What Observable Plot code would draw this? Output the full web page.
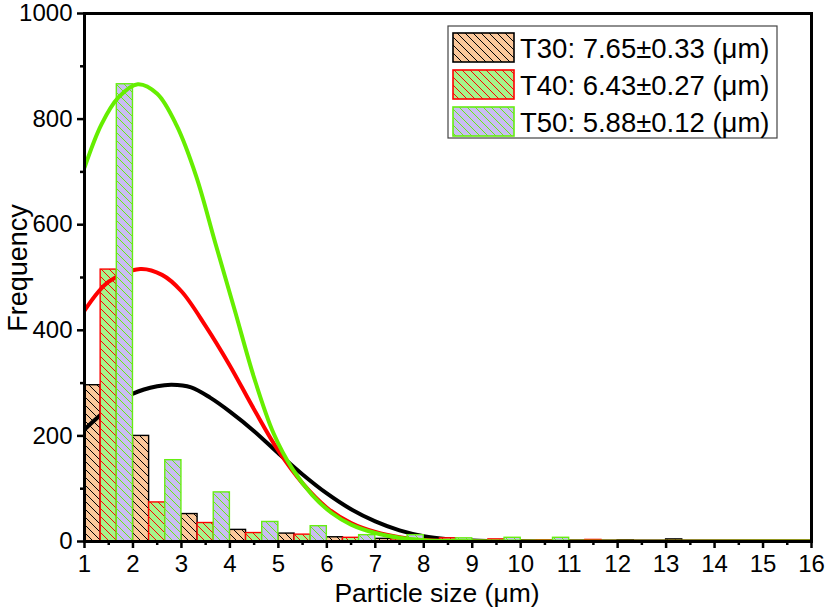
<!DOCTYPE html>
<html><head><meta charset="utf-8">
<script src="https://cdn.jsdelivr.net/npm/d3@7"></script>
<script src="https://cdn.jsdelivr.net/npm/@observablehq/plot@0.6"></script>
<style>
body{margin:0;background:#fff}
svg{font-family:"Liberation Sans",Arial,sans-serif}
</style>
</head><body><div id="chart"></div>
<script>
// Histogram bins (1 µm wide, three samples side by side)
const binStarts = [1,2,3,4,5,6,7,8,9,10,11,12,13,14,15];
const t30 = [296, 200, 52, 22, 15, 8, 5, 3, 1, 1, 1, 2, 4, 0, 0];
const t40 = [515, 74, 35, 16, 13, 7, 4, 6, 4, 2, 3, 0, 0, 0, 0];
const t50 = [866, 154, 93, 37, 29, 12, 12, 6, 7, 7, 0, 0, 0, 0, 0];

// Fitted distribution curves as [size, frequency]
const fitT30 = [[1,212],[1.5,252],[2,280],[2.5,294],[2.8,297],[3.2,292],[3.6,272],[4.0,246],[4.5,209],[5.0,167],[5.5,127],[6.0,91],[6.5,61],[7.0,38],[7.5,21],[8.0,10],[8.5,4.5],[9,2],[10,0.3],[11,0],[16,0]];
const fitT40 = [[1,437],[1.5,492],[2.15,516],[2.6,505],[3.0,474],[3.5,408],[4.0,333],[4.5,250],[5.0,172],[5.5,110],[6.0,64],[6.5,35],[7.0,18],[7.5,8],[8.0,3],[8.5,1],[9.5,0],[16,0]];
const fitT50 = [[1,708],[1.35,790],[1.7,841],[2.1,866],[2.5,848],[2.9,788],[3.3,693],[3.7,565],[4.1,438],[4.5,310],[4.9,205],[5.3,136],[5.7,88],[6.1,54],[6.5,32],[7.0,16],[7.5,7],[8.0,2.5],[8.5,1],[9.5,0],[16,0]];

const legendLabels = ["T30: 7.65±0.33 (μm)", "T40: 6.43±0.27 (μm)", "T50: 5.88±0.12 (μm)"];
const xTicks = [1,2,3,4,5,6,7,8,9,10,11,12,13,14,15,16];
const xMinor = [1.5,2.5,3.5,4.5,5.5,6.5,7.5,8.5,9.5,10.5,11.5,12.5,13.5,14.5,15.5];
const yTicks = [0,200,400,600,800,1000];
const yMinor = [100,300,500,700,900];

const styles = [
  {pat:"h30", bg:"#FCC89B", line:"#000000", stroke:"#000000", curve:"#000000"},
  {pat:"h40", bg:"#A6F58A", line:"#FF0000", stroke:"#FF0000", curve:"#FF0000"},
  {pat:"h50", bg:"#C9BDF2", line:"#66EE11", stroke:"#66EE11", curve:"#66EE00"}
];

function barsOf(values, k) {
  return binStarts.map((s, i) => ({x1: s + k/3, x2: s + (k+1)/3, y: values[i]})).filter(d => d.y > 0);
}
const series = [t30, t40, t50];
const fits = [fitT30, fitT40, fitT50];

const marks = [];
series.forEach((vals, k) => {
  marks.push(Plot.rectY(barsOf(vals, k), {x1:"x1", x2:"x2", y:"y", fill:`url(#${styles[k].pat})`, stroke: styles[k].stroke, strokeWidth: 1.4}));
  marks.push(Plot.line(fits[k], {x: d => d[0], y: d => d[1], stroke: styles[k].curve, strokeWidth: 4, curve: "catmull-rom", clip: true}));
});

const plot = Plot.plot({
  width: 825, height: 608,
  marginLeft: 84, marginRight: 14, marginTop: 13, marginBottom: 67,
  x: {domain: [1, 16]},
  y: {domain: [0, 1000]},
  marks: [
    ...marks,
    Plot.axisX({ticks: xTicks, tickSize: 7, tickPadding: 6, fontSize: 24, strokeWidth: 2.5, label: null, tickFormat: d => String(d)}),
    Plot.axisX({ticks: xMinor, tickSize: 4, text: null, strokeWidth: 2.5, label: null}),
    Plot.axisY({ticks: yTicks, tickSize: 7, tickPadding: 5, fontSize: 24, strokeWidth: 2.5, label: null, tickFormat: d => String(d)}),
    Plot.axisY({ticks: yMinor, tickSize: 4, text: null, strokeWidth: 2.5, label: null}),
    Plot.frame({stroke: "black", strokeWidth: 3})
  ]
});

const svg = d3.select(plot);
svg.style("font-family", '"Liberation Sans", Arial, sans-serif').style("color", "black").style("overflow", "visible");
const defs = svg.insert("defs", ":first-child");
styles.forEach(s => {
  const p = defs.append("pattern").attr("id", s.pat).attr("patternUnits", "userSpaceOnUse").attr("width", 8).attr("height", 8);
  p.append("rect").attr("width", 8).attr("height", 8).attr("fill", s.bg);
  p.append("path").attr("d", "M0,0L8,8M-2,6L2,10M6,-2L10,2").attr("stroke", s.line).attr("stroke-width", 1);
});

// axis titles
svg.append("text").attr("x", 437).attr("y", 602).attr("text-anchor", "middle").attr("font-size", 26.5).attr("fill", "black").text("Particle size (μm)");
svg.append("text").attr("transform", "translate(27,268) rotate(-90)").attr("text-anchor", "middle").attr("font-size", 27).attr("fill", "black").text("Frequency");

// legend
const lg = svg.append("g").attr("text-anchor", "start");
lg.append("rect").attr("x", 448).attr("y", 26).attr("width", 329).attr("height", 112).attr("fill", "white").attr("stroke", "#444").attr("stroke-width", 1.2);
legendLabels.forEach((lab, i) => {
  const y0 = 33 + i * 37;
  lg.append("rect").attr("x", 453).attr("y", y0).attr("width", 61).attr("height", 29).attr("fill", `url(#${styles[i].pat})`).attr("stroke", styles[i].stroke).attr("stroke-width", 1.6);
  lg.append("text").attr("x", 520).attr("y", y0 + 15).attr("dy", "0.36em").attr("text-anchor", "start").attr("font-size", 27.5).attr("fill", "black").text(lab);
});

document.getElementById("chart").appendChild(plot);
</script>
</body></html>
